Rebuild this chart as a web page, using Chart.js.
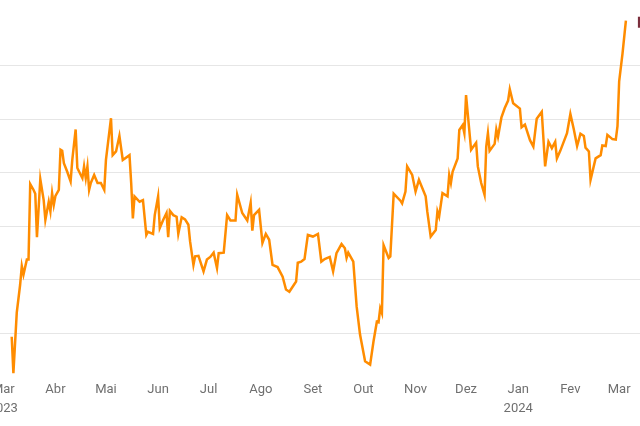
<!DOCTYPE html>
<html>
<head>
<meta charset="utf-8">
<script src="https://cdn.jsdelivr.net/npm/chart.js@4/dist/chart.umd.min.js"></script>
<style>
html, body { margin: 0; padding: 0; background: #fff; overflow: hidden; }
#wrap { position: absolute; left: -40px; top: 0; width: 720px; height: 426px; }
</style>
</head>
<body>
<div id="wrap"><canvas id="grafico"></canvas></div>
<script>
// dias contados a partir de 1 mar 2023
var dias = [
	5,6,8,10,11,12,14,15,16,18,
	19,20,22,24,25,27,28,29,30,31,
	33,34,35,36,38,40,41,43,44,47,
	48,49,50,51,52,54,56,58,60,61,
	64,65,67,69,71,75,76,77,78,81,
	83,85,86,89,90,92,93,95,97,98,
	99,101,103,104,106,108,110,111,113,114,
	116,119,121,123,125,127,128,131,133,135,
	138,139,142,145,147,148,149,152,154,156,
	158,160,163,166,168,170,174,175,177,179,
	181,184,187,189,191,194,196,198,201,203,
	204,205,208,210,212,215,218,220,222,223,
	224,225,226,229,230,232,236,237,239,240,
	243,245,247,251,252,254,257,258,259,261,
	264,265,266,267,270,271,273,274,275,276,
	278,281,282,284,286,287,288,289,292,293,
	294,296,298,300,301,303,307,308,310,313,
	315,317,320,322,324,326,328,329,331,335,
	337,339,341,343,345,346,348,349,352,355,
	356,358,359,362,364,365,366,368,370
];
var valores = [
	9.4,2.6,13.9,19.1,22.6,21.0,23.8,23.8,37.9,36.8,
	36.1,28.0,38.8,34.9,31.2,34.6,32.8,36.2,34.0,35.7,
	36.8,44.3,44.1,41.8,40.2,38.4,42.4,48.1,40.9,39.0,
	41.2,39.0,41.2,36.8,38.1,39.6,38.1,38.1,36.8,42.4,
	50.2,43.3,44.0,46.9,42.4,43.3,38.1,31.5,35.6,34.6,
	34.9,28.4,29.0,28.6,32.1,35.6,29.7,31.2,32.5,28.0,
	32.9,32.1,31.8,28.6,31.7,31.3,30.3,27.2,22.8,24.4,
	24.5,21.6,23.8,24.3,25.1,22.2,25.0,25.1,32.1,31.1,
	31.1,35.9,32.5,31.1,34.4,29.2,32.1,33.1,26.9,28.6,
	27.5,22.8,22.4,20.6,18.2,17.8,19.7,23.2,23.4,23.9,
	28.4,28.1,28.6,23.4,23.9,24.3,21.6,25.0,26.7,25.9,
	24.1,25.1,23.4,15.0,9.8,4.8,4.2,8.5,12.2,12.1,
	14.7,13.8,26.5,24.1,24.4,36.1,34.8,34.3,36.5,41.2,
	39.6,36.5,38.7,35.6,32.7,28.1,29.3,32.8,31.8,36.2,
	35.6,39.6,38.1,40.2,42.7,48.0,48.9,47.4,54.5,51.1,
	44.3,45.6,41.2,38.1,35.9,44.9,47.4,44.1,45.4,48.1,
	46.7,50.3,52.1,53.5,55.6,53.0,52.0,48.5,49.0,46.1,
	44.9,50.1,51.4,41.2,45.8,44.6,45.8,42.7,44.1,47.4,
	51.0,48.2,45.0,47.3,46.9,44.7,44.0,38.7,42.7,43.3,
	45.1,45.0,47.1,46.3,46.2,48.7,57.1,62.3,68.4
];
var meses = ["Mar","Abr","Mai","Jun","Jul","Ago","Set","Out","Nov","Dez","Jan","Fev","Mar"];
var anos = ["2023","","","","","","","","","","2024","",""];
var linhasGrade = [10,20,30,40,50,60];

var inicio = Date.UTC(2023, 2, 1);
var posMeses = meses.map(function(m, i) {
	return (Date.UTC(2023, 2 + i, 1) - inicio) / 864e5;
});

var pontos = dias.map(function(d, i) { return {x: d, y: valores[i]}; });

var marcador = {
	id: "marcador",
	afterDatasetsDraw: function(chart) {
		var pts = chart.getDatasetMeta(0).data;
		var p = pts[pts.length - 1];
		var c = chart.ctx;
		c.save();
		c.fillStyle = "#7b2e3c";
		c.fillRect(p.x + 12, p.y - 4, 40, 11);
		c.restore();
	}
};

var ctx = document.getElementById("grafico").getContext("2d");
var grafico = new Chart(ctx, {
	type: "line",
	data: {
		datasets: [
			{
				data: pontos,
				borderColor: "#ff8c00",
				borderWidth: 2.5,
				pointRadius: 0,
				tension: 0,
				fill: false,
			},
		],
	},
	options: {
		responsive: true,
		maintainAspectRatio: false,
		animation: false,
		layout: { padding: { left: 40, right: 40, top: 0, bottom: 0 } },
		plugins: { legend: { display: false }, tooltip: { enabled: false } },
		scales: {
			x: {
				type: "linear",
				min: -1.96,
				max: 378.38,
				grid: { display: false },
				border: { display: false },
				afterBuildTicks: function(axis) {
					axis.ticks = posMeses.map(function(v) { return {value: v}; });
				},
				afterFit: function(axis) { axis.height = 48; },
				ticks: {
					autoSkip: false,
					maxRotation: 0,
					padding: -5,
					color: "#6f6f6f",
					font: { family: "Roboto", size: 13, lineHeight: 1.4 },
					callback: function(v, i) {
						return anos[i] ? [meses[i], anos[i]] : meses[i];
					},
				},
			},
			y: {
				min: 1.69,
				max: 72.27,
				border: { display: false },
				grid: { color: "#e6e6e6", lineWidth: 1, drawTicks: false },
				afterBuildTicks: function(axis) {
					axis.ticks = linhasGrade.map(function(v) { return {value: v}; });
				},
				ticks: { display: false },
			},
		},
	},
	plugins: [marcador],
});
</script>
</body>
</html>
